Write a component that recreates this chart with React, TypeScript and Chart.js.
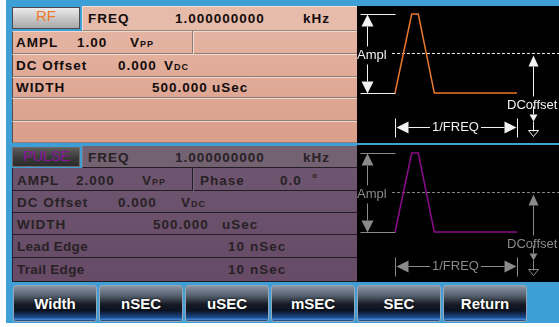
import React, { useEffect, useRef } from 'react';
import { Chart, registerables } from 'chart.js';

Chart.register(...registerables);

// ---- data ----
const pulseTime = [0, 0.137, 0.191, 0.322, 1.0]; // fraction of period (1/FREQ)
const rfPulseLevel = [-0.5, 0.5, 0.5, -0.5, -0.5]; // V, AMPL 1.00 Vpp
const pulsePulseLevel = [-1, 1, 1, -1, -1]; // V, AMPL 2.000 Vpp
const dcTime = [-0.025, 1.36];
const rfDcLevel = [0, 0]; // DC Offset 0.000
const pulseDcLevel = [0, 0];
const rfAmpl = 1.0;
const pulseAmpl = 2.0;
const buttonLabels = ['Width', 'nSEC', 'uSEC', 'mSEC', 'SEC', 'Return'];

const FONT = '"Liberation Sans", Arial, sans-serif';

type WaveProps = {
  level: number[];
  dcLevel: number[];
  ampl: number;
  lineColor: string;
  decoColor: string;
};

function WaveChart({ level, dcLevel, ampl, lineColor, decoColor }: WaveProps) {
  const ref = useRef<HTMLCanvasElement>(null);
  useEffect(() => {
    if (!ref.current) return;
    const decoPlugin = {
      id: 'deco',
      afterDatasetsDraw(chart: any) {
        const ctx = chart.ctx as CanvasRenderingContext2D;
        const xs = chart.scales.x;
        const ys = chart.scales.y;
        const x0 = Math.round(xs.getPixelForValue(0)) + 0.5;
        const x1 = Math.round(xs.getPixelForValue(1)) + 0.5;
        const yT = Math.round(ys.getPixelForValue(ampl / 2)) + 0.5;
        const yB = Math.round(ys.getPixelForValue(-ampl / 2)) + 0.5;
        const yM = Math.round(ys.getPixelForValue(dcLevel[0])) + 0.5;
        ctx.save();
        ctx.strokeStyle = decoColor;
        ctx.fillStyle = decoColor;
        ctx.lineWidth = 1;
        const line = (a: number, b: number, c: number, d: number) => {
          ctx.beginPath();
          ctx.moveTo(a, b);
          ctx.lineTo(c, d);
          ctx.stroke();
        };
        const tri = (pts: number[][], fill = true) => {
          ctx.beginPath();
          ctx.moveTo(pts[0][0], pts[0][1]);
          ctx.lineTo(pts[1][0], pts[1][1]);
          ctx.lineTo(pts[2][0], pts[2][1]);
          ctx.closePath();
          if (fill) ctx.fill();
          else ctx.stroke();
        };
        // Ampl marker
        line(x0 - 35, yT, x0, yT);
        line(x0 - 35, yB, x0, yB);
        const ax = x0 - 28;
        tri([[ax, yT], [ax - 6, yT + 12], [ax + 6, yT + 12]]);
        line(ax, yT + 12, ax, yM - 7);
        line(ax, yM + 11, ax, yB - 12);
        tri([[ax, yB], [ax - 6, yB - 12], [ax + 6, yB - 12]]);
        // DC offset marker
        const dx = x1 + 16;
        tri([[dx, yM + 2], [dx - 5, yM + 13], [dx + 5, yM + 13]]);
        line(dx, yM + 13, dx, yM + 43);
        line(dx, yM + 53, dx, yM + 61);
        tri([[dx, yM + 68], [dx - 4, yM + 61], [dx + 4, yM + 61]]);
        line(dx, yM + 68, dx, yM + 78);
        tri([[dx, yM + 83], [dx - 5, yM + 77], [dx + 5, yM + 77]], false);
        // 1/FREQ marker
        const yF = yB + 34;
        line(x0, yF - 9, x0, yF + 10);
        line(x1, yF - 9, x1, yF + 10);
        tri([[x0 + 1, yF], [x0 + 13, yF - 6], [x0 + 13, yF + 6]]);
        tri([[x1 - 1, yF], [x1 - 13, yF - 6], [x1 - 13, yF + 6]]);
        line(x0 + 13, yF, x1 - 13, yF);
        ctx.restore();
      },
    };
    const chart = new Chart(ref.current, {
      type: 'line',
      data: {
        datasets: [
          {
            data: pulseTime.map((t, i) => ({ x: t, y: level[i] })),
            borderColor: lineColor,
            borderWidth: 1.5,
            pointRadius: 0,
            tension: 0,
          },
          {
            data: dcTime.map((t, i) => ({ x: t, y: dcLevel[i] })),
            borderColor: decoColor,
            borderWidth: 1,
            borderDash: [3, 2],
            pointRadius: 0,
          },
        ],
      },
      options: {
        responsive: false,
        maintainAspectRatio: false,
        animation: false,
        events: [],
        layout: { padding: 0 },
        plugins: { legend: { display: false }, tooltip: { enabled: false } },
        scales: {
          x: { type: 'linear', display: false, min: -0.3115, max: 1.344 },
          y: { type: 'linear', display: false, min: -ampl * 1.133, max: ampl * 0.601 },
        },
      },
      plugins: [decoPlugin],
    } as any);
    return () => chart.destroy();
  }, []);
  return (
    <canvas
      ref={ref}
      width={202}
      height={137}
      style={{ position: 'absolute', left: 0, top: 0, width: 202, height: 137 }}
    />
  );
}

function T({ x, y, children, color, size = 13.5, bold = true, spacing = 1, sc = false }: any) {
  return (
    <div
      style={{
        position: 'absolute',
        left: x,
        top: y - 8,
        height: 16,
        lineHeight: '16px',
        fontFamily: FONT,
        fontSize: size,
        fontWeight: bold ? 700 : 400,
        letterSpacing: spacing,
        color,
        whiteSpace: 'nowrap',
        fontVariant: sc ? 'small-caps' : 'normal',
      }}
    >
      {children}
    </div>
  );
}

function Box({ x, y, w, h, style }: any) {
  return <div style={{ position: 'absolute', left: x, top: y, width: w, height: h, boxSizing: 'border-box', ...style }} />;
}

function WavePanel({ top, level, dcLevel, ampl, lineColor, decoColor }: any) {
  const lbl = (extra: any) => ({
    position: 'absolute' as const,
    fontFamily: FONT,
    fontSize: 13,
    lineHeight: '14px',
    color: decoColor,
    background: '#000',
    whiteSpace: 'nowrap' as const,
    ...extra,
  });
  return (
    <div style={{ position: 'absolute', left: 357, top, width: 202, height: 137, background: '#000', overflow: 'hidden' }}>
      <WaveChart level={level} dcLevel={dcLevel} ampl={ampl} lineColor={lineColor} decoColor={decoColor} />
      <div style={lbl({ left: 0, top: 42 })}>Ampl</div>
      <div style={lbl({ left: 150, top: 92, background: 'transparent' })}>DCoffset</div>
      <div style={lbl({ left: 73, top: 114, padding: '0 2px' })}>1/FREQ</div>
    </div>
  );
}

export default function App() {
  const topRows = [
    [31, 54],
    [54, 77],
    [77, 98],
    [98, 121],
    [121, 143],
  ];
  const botRows = [
    [168, 191],
    [191, 213],
    [213, 235],
    [235, 258],
    [258, 282],
  ];
  const tc = '#120c0c';
  const bc = '#282124';
  return (
    <div style={{ position: 'fixed', left: 0, top: 0, width: 559, height: 327, background: '#fff', overflow: 'hidden' }}>
      <Box x={6} y={0} w={553} h={323} style={{ background: '#3d9fd6' }} />

      {/* ---- top (RF) panel ---- */}
      <Box x={12} y={31} w={345} h={112} style={{ background: 'linear-gradient(#e4b4a2, #d99e8a)', borderLeft: '1px solid #5e4c46' }} />
      {topRows.map(([a, b], i) => (
        <Box
          key={'tr' + i}
          x={12}
          y={a}
          w={345}
          h={b - a}
          style={{ borderTop: '1px solid #f4d9cd', borderBottom: '1px solid #8f7d77', borderLeft: '1px solid #5e4c46' }}
        />
      ))}
      <Box x={192} y={31} w={2} h={23} style={{ borderLeft: '1px solid #8f7d77', borderRight: '1px solid #f4d9cd' }} />
      <Box x={82} y={6} w={275} h={25} style={{ background: '#e7bba9', borderTop: '1px solid #f6e0d6', borderLeft: '1px solid #f6e0d6', borderBottom: '1px solid #9a8680' }} />
      <Box x={12} y={7} w={68} h={22} style={{ background: 'linear-gradient(#ececec, #c8c8c8 50%, #a9a9a9)', border: '1px solid #4a4a4a' }} />
      <T x={36} y={16} color="#f07a2c" size={15} bold={false} spacing={0}>RF</T>
      <T x={88} y={19} color={tc}>FREQ</T>
      <T x={175} y={19} color={tc}>1.000000000</T>
      <T x={303} y={19} color={tc}>kHz</T>
      <T x={16} y={43} color={tc}>AMPL</T>
      <T x={77} y={43} color={tc}>1.00</T>
      <T x={130} y={43} color={tc} sc>Vpp</T>
      <T x={16} y={66} color={tc}>DC Offset</T>
      <T x={118} y={66} color={tc}>0.000</T>
      <T x={164} y={66} color={tc} sc>Vdc</T>
      <T x={16} y={88} color={tc}>WIDTH</T>
      <T x={152} y={88} color={tc}>500.000</T>
      <T x={212} y={88} color={tc}>uSec</T>

      <WavePanel top={6} level={rfPulseLevel} dcLevel={rfDcLevel} ampl={rfAmpl} lineColor="#e8782c" decoColor="#f2f2f2" />

      {/* ---- bottom (PULSE) panel ---- */}
      <Box x={12} y={168} w={345} h={114} style={{ background: 'linear-gradient(#6e5670, #664a66)', borderLeft: '1px solid #2a2228' }} />
      {botRows.map(([a, b], i) => (
        <Box key={'br' + i} x={12} y={a} w={345} h={b - a} style={{ borderBottom: '1px solid #231c22', borderLeft: '1px solid #2a2228' }} />
      ))}
      <Box x={192} y={168} w={2} h={23} style={{ borderLeft: '1px solid #231c22', borderRight: '1px solid #7c6880' }} />
      <Box x={82} y={146} w={275} h={22} style={{ background: '#736272', borderBottom: '1px solid #231c22', borderLeft: '1px solid #857585' }} />
      <Box x={12} y={147} w={68} h={20} style={{ background: 'linear-gradient(#5c5c5c, #3a3a3a 55%, #2c2c2c)', border: '1px solid #6a6a6a' }} />
      <T x={23} y={156} color="#8a139c" size={15} bold={false} spacing={-0.5}>PULSE</T>
      <T x={88} y={158} color={bc}>FREQ</T>
      <T x={175} y={158} color={bc}>1.000000000</T>
      <T x={303} y={158} color={bc}>kHz</T>
      <T x={17} y={181} color={bc}>AMPL</T>
      <T x={76} y={181} color={bc}>2.000</T>
      <T x={142} y={181} color={bc} sc>Vpp</T>
      <T x={200} y={181} color={bc}>Phase</T>
      <T x={280} y={181} color={bc}>0.0</T>
      <T x={312} y={179} color={bc}>°</T>
      <T x={17} y={203} color={bc}>DC Offset</T>
      <T x={118} y={203} color={bc}>0.000</T>
      <T x={181} y={203} color={bc} sc>Vdc</T>
      <T x={17} y={225} color={bc}>WIDTH</T>
      <T x={153} y={225} color={bc}>500.000</T>
      <T x={222} y={225} color={bc}>uSec</T>
      <T x={17} y={247} color={bc} spacing={0.3}>Lead Edge</T>
      <T x={228} y={247} color={bc}>10</T>
      <T x={250} y={247} color={bc}>nSec</T>
      <T x={17} y={270} color={bc} spacing={0.3}>Trail Edge</T>
      <T x={228} y={270} color={bc}>10</T>
      <T x={250} y={270} color={bc}>nSec</T>

      <WavePanel top={145} level={pulsePulseLevel} dcLevel={pulseDcLevel} ampl={pulseAmpl} lineColor="#8c0a8c" decoColor="#8a8a8a" />

      {/* ---- soft keys ---- */}
      {buttonLabels.map((b, i) => (
        <div
          key={b}
          style={{
            position: 'absolute',
            left: 13 + i * 86,
            top: 285,
            width: 84,
            height: 37,
            boxSizing: 'border-box',
            border: '1px solid #9aa6b4',
            borderRadius: 3,
            background:
              'linear-gradient(#8a96a4 0%, #55606e 28%, #161b24 52%, #0b1220 70%, #1d4c92 90%, #3f86d0 96%, #1a3560 100%)',
            color: '#fff',
            fontFamily: FONT,
            fontWeight: 700,
            fontSize: 15,
            lineHeight: '35px',
            textAlign: 'center',
            textShadow: '0 0 2px #000',
          }}
        >
          {b}
        </div>
      ))}
    </div>
  );
}
